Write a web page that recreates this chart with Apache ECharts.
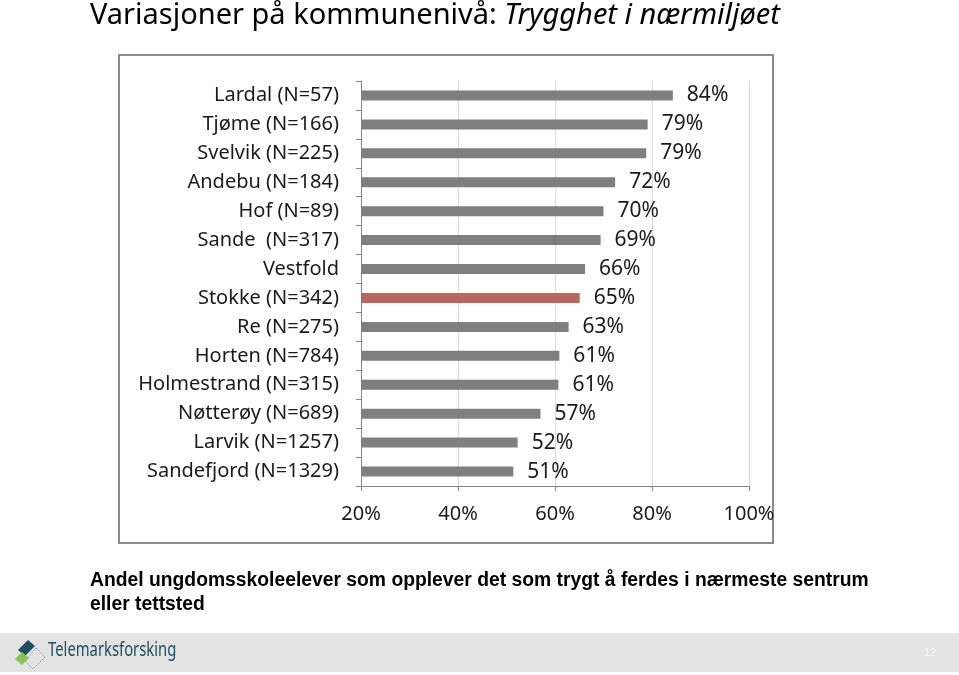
<!DOCTYPE html>
<html>
<head>
<meta charset="utf-8">
<script src="https://cdn.jsdelivr.net/npm/echarts@6/dist/echarts.min.js"></script>
<style>html,body{margin:0;padding:0;background:#fff}#c{width:959px;height:675px}</style>
</head>
<body>
<div id="c"></div>
<script>
const categories = ["Lardal (N=57)","Tjøme (N=166)","Svelvik (N=225)","Andebu (N=184)","Hof (N=89)","Sande  (N=317)","Vestfold","Stokke (N=342)","Re (N=275)","Horten (N=784)","Holmestrand (N=315)","Nøtterøy (N=689)","Larvik (N=1257)","Sandefjord (N=1329)"];
const values = [84.3, 79.1, 78.8, 72.4, 70.0, 69.4, 66.2, 65.1, 62.8, 60.9, 60.7, 57.0, 52.3, 51.4];
const highlight = "Stokke (N=342)";
const xTicks = [20, 40, 60, 80, 100];

const chart = echarts.init(document.getElementById('c'), null, {renderer: 'canvas'});
const font = '"Noto Sans", sans-serif';
chart.setOption({
  animation: false,
  backgroundColor: '#fff',
  grid: {left: 361, right: 210, top: 81, bottom: 189, containLabel: false},
  xAxis: {
    type: 'value', min: xTicks[0], max: xTicks[xTicks.length-1], interval: 20,
    axisLine: {show: true, lineStyle: {color: '#868686', width: 1}},
    axisTick: {show: true, length: 5, lineStyle: {color: '#868686'}},
    splitLine: {show: true, lineStyle: {color: '#d9d9d9', width: 1}},
    axisLabel: {formatter: '{value}%', color: '#1a1a1a', fontFamily: font, fontSize: 20, margin: 18}
  },
  yAxis: {
    type: 'category', data: categories, inverse: true,
    axisLine: {show: true, lineStyle: {color: '#868686', width: 1}},
    axisTick: {show: true, length: 5, lineStyle: {color: '#868686'}},
    axisLabel: {color: '#1a1a1a', fontFamily: font, fontSize: 20, margin: 22}
  },
  series: [{
    type: 'bar',
    barWidth: 10,
    data: values.map((v, i) => ({value: v, itemStyle: {color: categories[i] === highlight ? '#b7675f' : '#7f7f7f'}})),
    label: {show: true, position: 'right', distance: 14, formatter: p => Math.round(p.value) + '%', color: '#1a1a1a', fontFamily: font, fontSize: 21}
  }],
  graphic: [
    {type: 'text', left: 90, top: 1, style: {
      text: '{a|Variasjoner på kommunenivå: }{b|Trygghet i nærmiljøet}',
      rich: {a: {fontFamily: font, fontSize: 29, fill: '#000'}, b: {fontFamily: font, fontSize: 29, fontStyle: 'italic', fill: '#000'}}
    }},
    {type: 'rect', shape: {x: 119, y: 55, width: 654, height: 488}, style: {fill: 'none', stroke: '#8a8a8a', lineWidth: 2}, z: -1},
    {type: 'text', x: 90, y: 568, scaleX: 0.965, style: {
      text: 'Andel ungdomsskoleelever som opplever det som trygt å ferdes i nærmeste sentrum\neller tettsted',
      fontFamily: '"Liberation Sans", Arial, sans-serif', fontWeight: 'bold', fontSize: 20, lineHeight: 24, fill: '#000'
    }},
    {type: 'rect', shape: {x: 0, y: 633, width: 959, height: 39}, style: {fill: '#e3e3e3'}, z: -2},
    {type: 'polygon', shape: {points: [[28,640],[35,646],[25,656],[18,650]]}, style: {fill: '#1f4f5e'}},
    {type: 'polygon', shape: {points: [[22,652],[29,658],[22,665],[15,659]]}, style: {fill: '#8cc15a'}},
    {type: 'polygon', shape: {points: [[36,648],[45,657],[33,669],[25,661]]}, style: {fill: 'none', stroke: '#9aa7ad', lineWidth: 1, lineDash: [2,1]}},
    {type: 'text', x: 48, y: 641, scaleX: 0.78, style: {text: 'Telemarksforsking', fontFamily: font, fontSize: 19, fill: '#1f4f5e'}},
    {type: 'text', left: 924, top: 647, style: {text: '12', fontFamily: '"Liberation Sans", Arial, sans-serif', fontSize: 11, fill: '#fafafa'}}
  ]
});
</script>
</body>
</html>
